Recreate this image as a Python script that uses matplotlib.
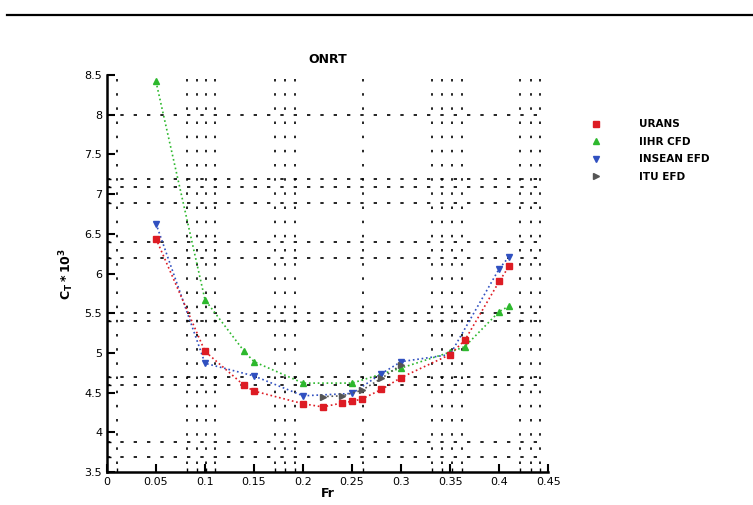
import numpy as np
import matplotlib
matplotlib.use("Agg")
import matplotlib.pyplot as plt
from matplotlib.lines import Line2D

# ONRT total resistance coefficient vs Froude number
fr_urans = [0.05, 0.10, 0.14, 0.15, 0.20, 0.22, 0.24, 0.25, 0.26, 0.28, 0.30, 0.35, 0.365, 0.40, 0.41]
ct_urans = [6.44, 5.02, 4.59, 4.52, 4.36, 4.32, 4.37, 4.39, 4.42, 4.54, 4.69, 4.98, 5.16, 5.90, 6.09]

fr_iihr = [0.05, 0.10, 0.14, 0.15, 0.20, 0.25, 0.30, 0.35, 0.365, 0.40, 0.41]
ct_iihr = [8.42, 5.67, 5.02, 4.89, 4.62, 4.62, 4.81, 5.01, 5.08, 5.52, 5.59]

fr_insean = [0.05, 0.10, 0.15, 0.20, 0.25, 0.28, 0.30, 0.35, 0.40, 0.41]
ct_insean = [6.63, 4.87, 4.71, 4.46, 4.49, 4.74, 4.89, 4.98, 6.06, 6.21]

fr_itu = [0.22, 0.24, 0.26, 0.28, 0.30]
ct_itu = [4.45, 4.46, 4.53, 4.68, 4.85]

# grid line positions
hgrid = [8.0, 7.19, 7.09, 6.89, 6.40, 6.20, 5.50, 5.40, 4.70, 4.60, 3.88, 3.69]
vgrid = [0.0102, 0.0816, 0.0918, 0.101, 0.110, 0.171, 0.182, 0.192, 0.261,
         0.332, 0.342, 0.352, 0.362, 0.421, 0.432, 0.442]

plt.rcParams['font.family'] = ['DejaVu Sans']

fig = plt.figure(figsize=(7.53, 5.05), dpi=100)
ax = fig.add_axes([0.142, 0.0653, 0.586, 0.786])

# rule across the top of the page
fig.add_artist(Line2D([0.009, 1.0], [0.971, 0.971], color='black', lw=1.6,
                      transform=fig.transFigure))

for y in hgrid:
    ax.axhline(y, xmin=0.0, xmax=0.99, color='black', lw=1.2,
               linestyle=(0, (2, 6)), zorder=1)
for x in vgrid:
    ax.axvline(x, ymin=0.02, ymax=0.99, color='black', lw=1.2,
               linestyle=(0, (1.5, 7)), zorder=1)

ax.plot(fr_iihr, ct_iihr, color='#2db82d', ls=':', lw=1.2, marker='^',
        ms=4, label='IIHR CFD', zorder=3)
ax.plot(fr_insean, ct_insean, color='#3050c0', ls=':', lw=1.2, marker='v',
        ms=5, label='INSEAN EFD', zorder=4)
ax.plot(fr_itu, ct_itu, color='#555555', ls=':', lw=1.2, marker='>',
        ms=4, label='ITU EFD', zorder=5)
ax.plot(fr_urans, ct_urans, color='#dd1c24', ls=':', lw=1.2, marker='s',
        ms=5, label='URANS', zorder=6)

ax.set_xlim(0, 0.45)
ax.set_ylim(3.5, 8.5)
ax.set_xticks(np.arange(0, 0.451, 0.05))
ax.set_xticklabels(['0', '0.05', '0.1', '0.15', '0.2', '0.25', '0.3',
                    '0.35', '0.4', '0.45'])
ax.set_yticks(np.arange(3.5, 8.51, 0.5))
ax.set_yticklabels(['3.5', '4', '4.5', '5', '5.5', '6', '6.5', '7', '7.5',
                    '8', '8.5'])
ax.set_xticks(vgrid, minor=True)
ax.set_yticks(hgrid, minor=True)
ax.tick_params(axis='both', which='major', direction='in', length=6,
               width=1.5, labelsize=8)
ax.tick_params(axis='both', which='minor', direction='in', length=3,
               width=1.0)

for s in ['top', 'right']:
    ax.spines[s].set_visible(False)
for s in ['left', 'bottom']:
    ax.spines[s].set_linewidth(1.8)

ax.set_title('ONRT', fontsize=9, fontweight='bold', pad=9)
ax.set_xlabel('Fr', fontsize=9, fontweight='bold', labelpad=0)
ax.set_ylabel(r'$\mathbf{C_T*10^3}$', fontsize=9, labelpad=6)

handles, labels = ax.get_legend_handles_labels()
order = [3, 0, 1, 2]
fig.legend([handles[i] for i in order], [labels[i] for i in order],
           loc='upper left', bbox_to_anchor=(0.765, 0.782), frameon=False,
           handlelength=2.0, handletextpad=3.1, labelspacing=0.72,
           prop={'weight': 'bold', 'size': 7.5})
for h in fig.legends[0].legend_handles:
    h.set_linestyle('none')

fig.savefig('out.png', dpi=100)
